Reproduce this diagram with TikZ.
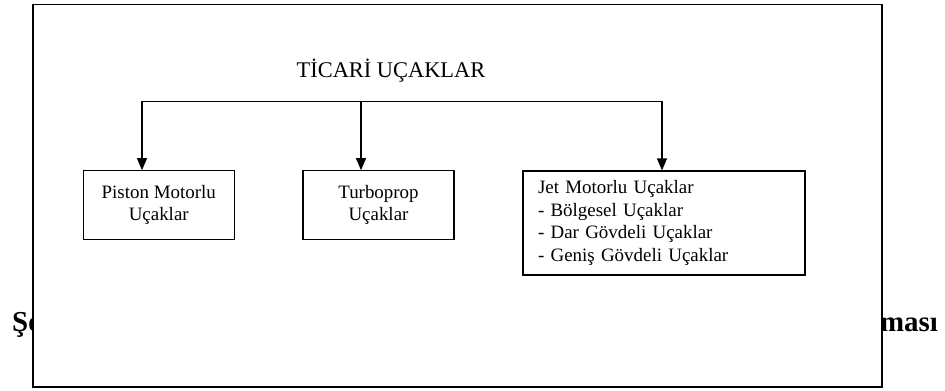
\documentclass[tikz,border=0pt]{standalone}
\usepackage{fontspec}
\setmainfont{Liberation Serif}
\usetikzlibrary{arrows.meta}
\begin{document}
\begin{tikzpicture}[x=1bp,y=-1bp,
  box/.style={draw, line width=1.2bp, inner sep=0pt, font=\fontsize{19}{22.5}\selectfont},
  link/.style={line width=1.2bp, line cap=rect},
  arr/.style={line width=1.2bp, -{Triangle[length=12bp,width=10bp]}},
  caption/.style={font=\fontsize{29}{34}\selectfont\bfseries, inner sep=0pt}]
\useasboundingbox (0,0) rectangle (945,390);
\fill[white] (0,0) rectangle (945,390);
% caption line, its middle hidden under the framed panel
\node[caption, anchor=base west] (capl) at (12,331) {Şe};
\node[caption, anchor=base east] (capr) at (938,331) {ması};
% framed panel
\node[draw, fill=white, line width=1.8bp, minimum width=849bp, minimum height=382.5bp, inner sep=0pt] (frame) at (457.5,195.75) {};
% heading
\node[font=\fontsize{22.5}{27}\selectfont, inner sep=0pt, anchor=base] (title) at (391,77) {TİCARİ UÇAKLAR};
% category boxes
\node[box, minimum width=151bp, minimum height=68.5bp, align=center] (piston) at (158.75,205) {Piston Motorlu\\Uçaklar};
\node[box, minimum width=151bp, minimum height=68.5bp, align=center] (turbo) at (378.5,205) {Turboprop\\Uçaklar};
\node[box, text width=252bp, inner xsep=15bp, minimum height=104bp, align=left] (jet) at (664,223) {Jet Motorlu Uçaklar\\- Bölgesel Uçaklar\\- Dar Gövdeli Uçaklar\\- Geniş Gövdeli Uçaklar};
% branching connectors
\coordinate (jl) at (142,101.7);
\coordinate (jm) at (361,101.7);
\coordinate (jr) at (662,101.7);
\draw[link] (jl) -- (jr);
\draw[arr] (jl) -- (jl |- piston.north);
\draw[arr] (jm) -- (jm |- turbo.north);
\draw[arr] (jr) -- (jr |- jet.north);
\end{tikzpicture}
\end{document}
